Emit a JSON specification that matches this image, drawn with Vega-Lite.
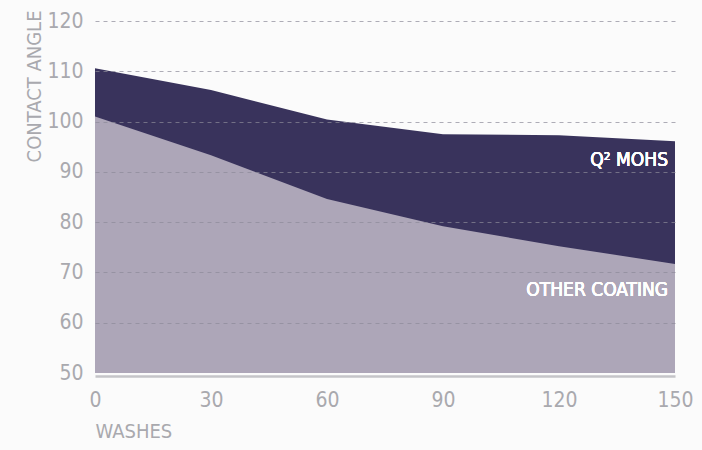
{
  "$schema": "https://vega.github.io/schema/vega-lite/v6.json",
  "autosize": "none",
  "width": 580,
  "height": 352,
  "padding": {"left": 95, "top": 21, "right": 27, "bottom": 77},
  "background": "#fbfbfb",
  "config": {
    "view": {"stroke": null},
    "font": "DejaVu Sans Condensed, Roboto, sans-serif",
    "axis": {
      "labelFont": "DejaVu Sans Condensed, Roboto, sans-serif",
      "titleFont": "DejaVu Sans Condensed, Roboto, sans-serif",
      "labelColor": "#a9a9ae",
      "titleColor": "#a9a9ae",
      "labelFontWeight": 300,
      "titleFontWeight": 300,
      "labelFontSize": 21,
      "titleFontSize": 20
    }
  },
  "data": {
    "values": [
      {"washes": 0, "q2": 110.6, "other": 101.0},
      {"washes": 30, "q2": 106.3, "other": 93.3},
      {"washes": 60, "q2": 100.4, "other": 84.6},
      {"washes": 90, "q2": 97.5, "other": 79.2},
      {"washes": 120, "q2": 97.3, "other": 75.2},
      {"washes": 150, "q2": 96.1, "other": 71.7}
    ]
  },
  "layer": [
    {
      "mark": {"type": "area", "color": "#39335c", "clip": true},
      "encoding": {
        "x": {
          "field": "washes", "type": "quantitative",
          "scale": {"domain": [0, 150], "nice": false},
          "axis": {
            "values": [0, 30, 60, 90, 120, 150],
            "title": "WASHES",
            "titleAnchor": "start",
            "titleAlign": "left",
            "titlePadding": 11,
            "labelPadding": 13,
            "ticks": false,
            "grid": false,
            "domainColor": "#c4c4c8",
            "domainWidth": 2.5,
            "offset": 3,
            "labelFlush": false
          }
        },
        "y": {
          "field": "q2", "type": "quantitative",
          "scale": {"domain": [50, 120], "zero": false, "nice": false},
          "axis": {
            "values": [50, 60, 70, 80, 90, 100, 110, 120],
            "title": "CONTACT ANGLE",
            "titleAnchor": "end",
            "titleY": -11,
            "titleX": -51,
            "titleBaseline": "bottom",
            "titleAlign": "right",
            "titleAngle": -90,
            "labelPadding": 12,
            "ticks": false,
            "domain": false,
            "grid": true,
            "gridDash": [4, 4],
            "gridColor": "#8c8a99",
            "gridOpacity": {"condition": {"test": "datum.value <= 50", "value": 0}, "value": 0.7},
            "gridWidth": 1,
            "zindex": 1
          }
        }
      }
    },
    {
      "mark": {"type": "area", "color": "#ada6b8", "clip": true},
      "encoding": {
        "x": {"field": "washes", "type": "quantitative"},
        "y": {"field": "other", "type": "quantitative"}
      }
    },
    {
      "mark": {"type": "text", "text": "Q² MOHS", "color": "#ffffff", "align": "right", "baseline": "middle", "dx": -7, "fontSize": 19, "font": "DejaVu Sans Condensed, Roboto, sans-serif"},
      "encoding": {
        "x": {"datum": 150, "type": "quantitative"},
        "y": {"datum": 92.4, "type": "quantitative"}
      }
    },
    {
      "mark": {"type": "text", "text": "OTHER COATING", "color": "#ffffff", "align": "right", "baseline": "middle", "dx": -7, "fontSize": 19, "font": "DejaVu Sans Condensed, Roboto, sans-serif"},
      "encoding": {
        "x": {"datum": 150, "type": "quantitative"},
        "y": {"datum": 66.6, "type": "quantitative"}
      }
    }
  ]
}
